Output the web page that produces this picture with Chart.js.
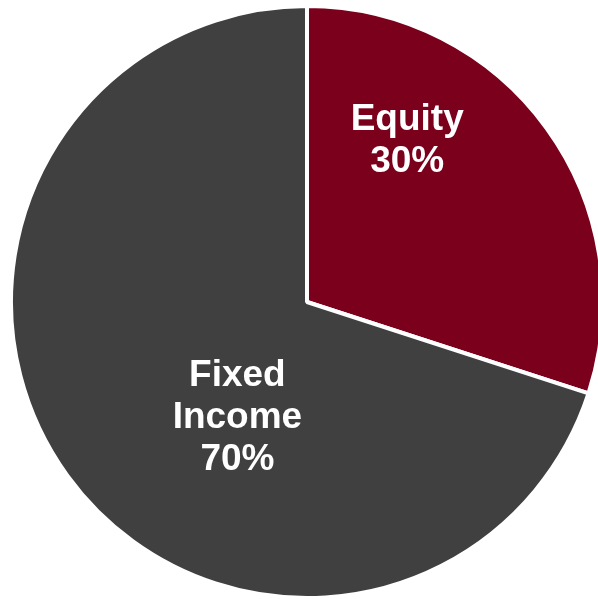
<!DOCTYPE html>
<html>
<head>
<meta charset="utf-8">
<script src="https://cdn.jsdelivr.net/npm/chart.js@4/dist/chart.umd.min.js"></script>
<style>
  html, body { margin: 0; padding: 0; background: #fff; overflow: hidden; width: 598px; height: 599px; }
  #wrap { position: absolute; left: 9px; top: 4px; width: 596px; height: 596px; }
</style>
</head>
<body>
<div id="wrap"><canvas id="pieChart" width="596" height="596"></canvas></div>
<script>
  // data
  const labels = ["Equity", "Fixed Income"];
  const values = [30, 70];
  const colors = ["#7a001b", "#404040"];
  // text inside each slice, one entry per line
  const labelLines = [["Equity", "30%"], ["Fixed", "Income", "70%"]];

  // where each label sits: angle (deg from top, clockwise) and fraction of radius
  const labelPlace = [
    { angle: 31.5, r: 0.648 },
    { angle: 211.5, r: 0.45 },
  ];

  const sliceLabels = {
    id: "sliceLabels",
    afterDatasetsDraw(chart) {
      const ctx = chart.ctx;
      const meta = chart.getDatasetMeta(0);
      ctx.save();
      ctx.fillStyle = "#ffffff";
      ctx.font = "bold 37px 'Liberation Sans', Arial, sans-serif";
      ctx.textAlign = "center";
      ctx.textBaseline = "middle";
      const lineH = 42;
      meta.data.forEach((arc, i) => {
        const p = labelPlace[i];
        const a = (p.angle - 90) * Math.PI / 180;
        const cx = arc.x + Math.cos(a) * arc.outerRadius * p.r;
        const cy = arc.y + Math.sin(a) * arc.outerRadius * p.r;
        const lines = labelLines[i];
        const top = cy - (lines.length - 1) * lineH / 2;
        lines.forEach((t, k) => ctx.fillText(t, cx, top + k * lineH + 2));
      });
      ctx.restore();
    },
  };

  new Chart(document.getElementById("pieChart"), {
    type: "pie",
    data: {
      labels: labels,
      datasets: [{
        data: values,
        backgroundColor: colors,
        borderColor: "#ffffff",
        borderWidth: 4,
      }],
    },
    options: {
      responsive: false,
      animation: false,
      events: [],
      layout: { padding: 0 },
      plugins: {
        legend: { display: false },
        tooltip: { enabled: false },
      },
    },
    plugins: [sliceLabels],
  });
</script>
</body>
</html>
